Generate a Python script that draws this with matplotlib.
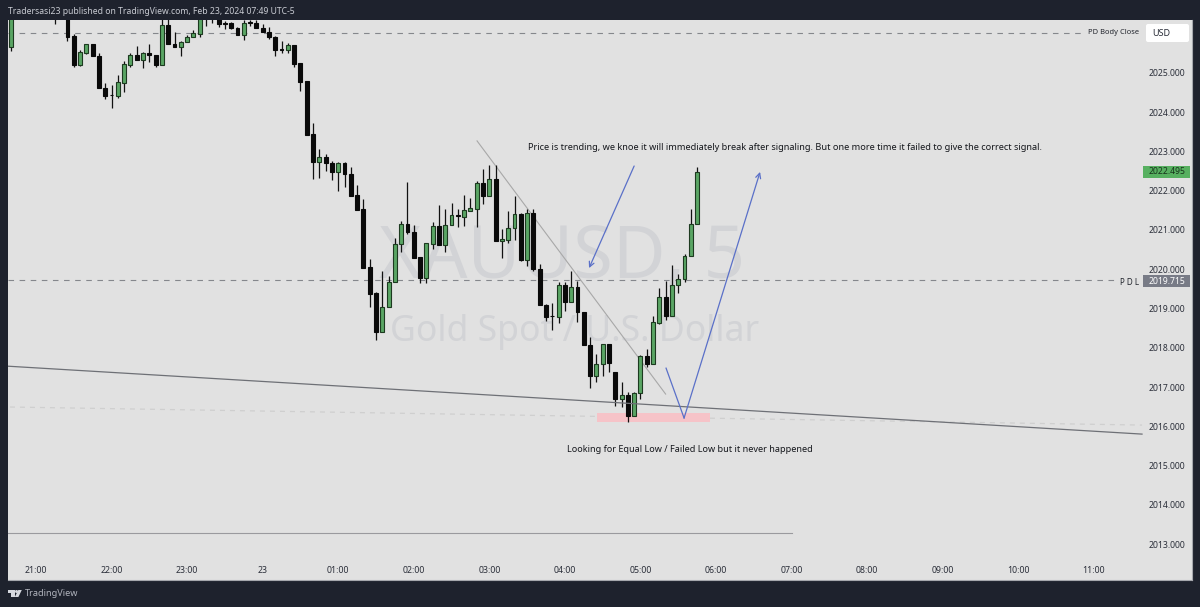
import matplotlib
matplotlib.use('Agg')
import matplotlib.pyplot as plt
from matplotlib.patches import Rectangle, FancyBboxPatch, Polygon, Circle
from matplotlib.transforms import IdentityTransform

plt.rcParams['font.family'] = ['Noto Sans', 'DejaVu Sans']

# 5 minute candles, first one sits just left of 21:00. The ones up to k=8 are above the visible range.
opens = [2025.66, 2026.90, 2027.10, 2026.80, 2027.00, 2026.95, 2026.85, 2026.90, 2026.80, 2026.80,
         2025.94, 2025.21, 2025.52, 2025.73, 2025.44, 2024.63, 2024.45, 2024.41, 2024.75, 2025.21,
         2025.45, 2025.33, 2025.50, 2025.46, 2025.21, 2026.22, 2025.74, 2025.65, 2025.80, 2025.91,
         2026.00, 2026.90, 2026.60, 2026.90, 2026.28, 2026.27, 2026.15, 2025.97, 2026.28, 2026.27,
         2026.14, 2026.04, 2025.92, 2025.59, 2025.59, 2025.71, 2025.25, 2024.79, 2023.44, 2022.74,
         2022.87, 2022.70, 2022.47, 2022.70, 2022.43, 2021.89, 2021.53, 2020.05, 2019.39, 2018.41,
         2019.03, 2019.67, 2020.64, 2021.14, 2020.94, 2020.30, 2019.78, 2020.64, 2021.09, 2020.63,
         2021.13, 2021.37, 2021.34, 2021.48, 2021.54, 2022.20, 2021.87, 2022.29, 2020.71, 2020.74,
         2021.04, 2021.41, 2020.23, 2021.43, 2020.01, 2019.09, 2018.82, 2018.79, 2019.60, 2019.16,
         2019.54, 2018.90, 2018.08, 2017.29, 2017.59, 2018.09, 2017.39, 2016.69, 2016.80, 2016.27,
         2016.85, 2017.80, 2017.59, 2018.63, 2019.29, 2018.81, 2019.60, 2019.74, 2020.34, 2021.15]
highs = [2027.10, 2027.20, 2027.30, 2027.10, 2027.20, 2027.10, 2027.00, 2027.10, 2027.00, 2027.00,
         2025.99, 2025.59, 2025.74, 2025.74, 2025.50, 2024.74, 2024.69, 2024.96, 2025.31, 2025.50,
         2025.69, 2025.54, 2025.75, 2025.46, 2026.50, 2026.50, 2026.04, 2025.82, 2025.97, 2026.10,
         2026.70, 2027.00, 2027.00, 2027.00, 2026.33, 2026.30, 2026.17, 2026.35, 2026.35, 2026.35,
         2026.25, 2026.18, 2025.94, 2025.82, 2025.76, 2025.71, 2025.25, 2024.80, 2023.72, 2023.06,
         2022.94, 2022.77, 2022.74, 2022.74, 2022.60, 2022.15, 2021.79, 2020.25, 2019.42, 2019.96,
         2019.84, 2020.79, 2021.23, 2022.22, 2021.12, 2020.31, 2020.67, 2021.21, 2021.64, 2021.54,
         2021.68, 2021.53, 2021.89, 2021.81, 2022.25, 2022.55, 2022.65, 2022.66, 2021.03, 2021.48,
         2021.87, 2021.43, 2021.53, 2021.53, 2020.13, 2019.11, 2019.13, 2019.68, 2019.68, 2019.95,
         2019.70, 2018.91, 2018.28, 2017.84, 2018.09, 2018.09, 2017.39, 2017.12, 2016.88, 2016.87,
         2017.81, 2017.96, 2018.82, 2019.52, 2019.70, 2020.11, 2019.88, 2020.39, 2021.53, 2022.60]
lows = [2025.56, 2026.60, 2026.70, 2026.60, 2026.70, 2026.60, 2026.50, 2026.25, 2026.40, 2025.82,
        2025.14, 2025.19, 2025.48, 2025.43, 2024.63, 2024.35, 2024.12, 2024.37, 2024.52, 2025.16,
        2025.33, 2025.12, 2025.27, 2025.14, 2025.21, 2025.74, 2025.65, 2025.44, 2025.80, 2025.91,
        2025.91, 2026.20, 2026.27, 2026.16, 2026.11, 2026.11, 2025.96, 2025.84, 2026.20, 2026.14,
        2026.04, 2025.87, 2025.44, 2025.52, 2025.50, 2025.16, 2024.55, 2023.43, 2022.29, 2022.32,
        2022.51, 2022.27, 2022.00, 2022.10, 2021.87, 2021.51, 2020.04, 2019.05, 2018.21, 2018.41,
        2019.03, 2019.67, 2020.45, 2020.90, 2020.28, 2019.66, 2019.66, 2020.52, 2020.63, 2020.45,
        2021.13, 2021.08, 2021.10, 2021.48, 2021.07, 2021.66, 2021.87, 2020.71, 2020.28, 2020.68,
        2020.74, 2020.21, 2020.08, 2019.96, 2019.08, 2018.69, 2018.45, 2018.62, 2018.94, 2019.16,
        2018.66, 2018.08, 2016.97, 2017.13, 2017.28, 2017.39, 2016.52, 2016.49, 2016.11, 2016.27,
        2016.69, 2017.52, 2017.59, 2018.60, 2018.71, 2018.81, 2019.39, 2019.68, 2020.34, 2021.15]
closes = [2026.90, 2027.00, 2026.80, 2027.00, 2026.95, 2026.85, 2026.90, 2026.70, 2026.80, 2025.92,
          2025.21, 2025.54, 2025.73, 2025.43, 2024.63, 2024.42, 2024.43, 2024.76, 2025.22, 2025.46,
          2025.33, 2025.50, 2025.45, 2025.21, 2026.22, 2025.74, 2025.65, 2025.80, 2025.92, 2026.03,
          2026.50, 2026.60, 2026.90, 2026.25, 2026.26, 2026.15, 2025.97, 2026.28, 2026.27, 2026.14,
          2026.04, 2025.92, 2025.59, 2025.58, 2025.71, 2025.24, 2024.78, 2023.43, 2022.74, 2022.87,
          2022.70, 2022.48, 2022.70, 2022.42, 2021.87, 2021.51, 2020.04, 2019.37, 2018.41, 2019.03,
          2019.68, 2020.64, 2021.14, 2020.94, 2020.28, 2019.78, 2020.66, 2021.09, 2020.63, 2021.13,
          2021.37, 2021.36, 2021.50, 2021.56, 2022.20, 2021.87, 2022.29, 2020.71, 2020.76, 2021.04,
          2021.41, 2020.23, 2021.43, 2020.00, 2019.08, 2018.79, 2018.80, 2019.60, 2019.16, 2019.54,
          2018.90, 2018.08, 2017.29, 2017.59, 2018.09, 2017.62, 2016.69, 2016.80, 2016.27, 2016.85,
          2017.80, 2017.58, 2018.65, 2019.29, 2018.81, 2019.60, 2019.75, 2020.35, 2021.16, 2022.48]

time_ticks = [4, 16, 28, 40, 52, 64, 76, 88, 100, 112, 124, 136, 148, 160, 172]
time_labels = ['21:00', '22:00', '23:00', '23', '01:00', '02:00', '03:00', '04:00',
               '05:00', '06:00', '07:00', '08:00', '09:00', '10:00', '11:00']
price_ticks = [2013, 2014, 2015, 2016, 2017, 2018, 2019, 2020, 2021, 2022, 2023, 2024, 2025]

pd_body_close = 2026.03
pdl = 2019.715
last_price = 2022.495

trend_x = [74.05, 104.0]
trend_y = [2023.27, 2016.82]
support_x = [-0.44, 179.66]
support_y = [2017.53, 2015.80]
faint_x = [-0.13, 179.66]
faint_y = [2016.49, 2016.03]
floor_x = [-0.44, 124.1]
floor_y = [2013.28, 2013.28]

W, H = 1200, 607
BG = '#1e222d'
PANEL = '#e1e1e1'
GREEN = '#5aa564'
BLUE = '#5a70c8'
TXT = '#2a2e39'
DASH = '#85878c'

fig = plt.figure(figsize=(12, 6.07), dpi=100, facecolor=BG)
ax = fig.add_axes([8 / W, (H - 580) / H, 1184 / W, 560 / H], facecolor=PANEL)
ax.set_xlim(-0.445, 187.6)
ax.set_ylim(2012.083, 2026.350)

# watermark goes first, everything else is on top of it
ax.text(87.5, 2019.77, 'XAUUSD, 5', fontsize=52, color='#d2d3d6', ha='center', va='baseline', zorder=1)
ax.text(89.6, 2018.17, 'Gold Spot / U.S. Dollar', fontsize=25.6, color='#d2d3d6', ha='center', va='baseline', zorder=1)

ax.plot([-0.44, 170.6], [pd_body_close, pd_body_close], color=DASH, lw=0.8, ls=(0, (5, 5)), zorder=2)
ax.plot([-0.44, 175.4], [pdl, pdl], color=DASH, lw=0.8, ls=(0, (5, 5)), zorder=2)
ax.plot(faint_x, faint_y, color='#cfcfcf', lw=0.9, ls=(0, (4, 4)), zorder=2)
ax.plot(floor_x, floor_y, color='#9a9a9e', lw=0.8, zorder=2)
ax.add_patch(Rectangle((93.06, 2016.10), 17.99, 0.23, facecolor='#f6c3c8', edgecolor='none', zorder=2))
ax.plot(trend_x, trend_y, color='#a8a8a8', lw=0.8, zorder=2)
ax.plot(support_x, support_y, color='#6e7076', lw=0.9, zorder=5)

# candles
for k in range(len(opens)):
    up = closes[k] >= opens[k]
    ax.vlines(k, lows[k], highs[k], color='#111111', lw=0.9, zorder=3)
    bottom = min(opens[k], closes[k])
    height = max(abs(closes[k] - opens[k]), 0.02)
    ax.bar(k, height, bottom=bottom, width=0.62, color=GREEN if up else '#0a0a0a',
           edgecolor='#1d3a20' if up else '#0a0a0a', lw=0.8, zorder=4)

# blue drawings
ax.annotate('', xy=(91.84, 2020.03), xytext=(99.0, 2022.63),
            arrowprops=dict(arrowstyle='->', color=BLUE, lw=0.9, mutation_scale=9, shrinkA=0, shrinkB=0), zorder=6)
ax.plot([104.07, 106.93], [2017.48, 2016.21], color=BLUE, lw=0.9, zorder=6)
ax.annotate('', xy=(119.0, 2022.48), xytext=(106.93, 2016.21),
            arrowprops=dict(arrowstyle='->', color=BLUE, lw=0.9, mutation_scale=9, shrinkA=0, shrinkB=0), zorder=6)

ax.text(82.2, 2023.10, 'Price is trending, we knoe it will immediately break after signaling. '
        'But one more time it failed to give the correct signal.',
        fontsize=6.6, color='#15171c', va='center', ha='left', zorder=7)
ax.text(88.3, 2015.42, 'Looking for Equal Low / Failed Low but it never happened',
        fontsize=6.55, color='#15171c', va='center', ha='left', zorder=7)

# axes are drawn inside the panel like in tradingview
ax.set_xticks(time_ticks)
ax.set_xticklabels(time_labels)
ax.set_yticks(price_ticks)
ax.set_yticklabels([f'{p:.3f}' for p in price_ticks])
ax.yaxis.tick_right()
ax.tick_params(axis='x', length=0, pad=-10, labelsize=6.3, labelcolor=TXT)
ax.tick_params(axis='y', length=0, pad=-5, labelsize=6.2, labelcolor=TXT)
for lab in ax.get_yticklabels():
    lab.set_ha('right')
ax.get_xticklabels()[3].set_fontweight('bold')
for side in ['top', 'left']:
    ax.spines[side].set_visible(False)
for side in ['right', 'bottom']:
    ax.spines[side].set_color('#a6a8ad')
    ax.spines[side].set_linewidth(0.8)

# the rest is placed in image pixels, y counted from the top
def px_box(x0, y0, x1, y1, color, rounded=False):
    if rounded:
        p = FancyBboxPatch((x0, H - y1), x1 - x0, y1 - y0, boxstyle='round,pad=0,rounding_size=2',
                           facecolor=color, edgecolor='none', transform=IdentityTransform())
    else:
        p = Rectangle((x0, H - y1), x1 - x0, y1 - y0, facecolor=color, edgecolor='none',
                      transform=IdentityTransform())
    fig.add_artist(p)

def px_text(x, y, s, **kw):
    fig.text(x / W, (H - y) / H, s, va='center', **kw)

px_text(8, 11, 'Tradersasi23 published on TradingView.com, Feb 23, 2024 07:49 UTC-5',
        fontsize=6.2, color='#c9ccd3')
px_text(1139, 32, 'PD Body Close', fontsize=5.4, color='#23262e', ha='right', fontweight='medium')
px_box(1146, 24, 1189, 42, '#ffffff', rounded=True)
px_text(1152, 33, 'USD', fontsize=6.5, color=TXT)

px_box(1143, 166, 1190, 178, '#57b060')
px_text(1185, 172, f'{last_price:.3f}', fontsize=6.2, color='#17331b', ha='right')
px_box(1143, 275, 1190, 287, '#787b86')
px_text(1185, 281, f'{pdl:.3f}', fontsize=6.2, color='#ffffff', ha='right')
px_text(1139, 282, 'P D L', fontsize=5.8, color='#23262e', ha='right', fontweight='bold')

# logo + name in the footer
logo = '#d6d8de'
px_box(8, 590, 14.5, 593, logo)
px_box(11, 593, 14.5, 597, logo)
fig.add_artist(Circle((16.5, H - 591.5), 1.5, facecolor=logo, edgecolor='none', transform=IdentityTransform()))
fig.add_artist(Polygon([(18.3, H - 590), (21.8, H - 590), (18.4, H - 597), (14.8, H - 597)],
                       facecolor=logo, edgecolor='none', transform=IdentityTransform()))
px_text(25, 593.5, 'TradingView', fontsize=6.6, color='#b2b5be')

fig.savefig('out.png', dpi=100, facecolor=BG)
